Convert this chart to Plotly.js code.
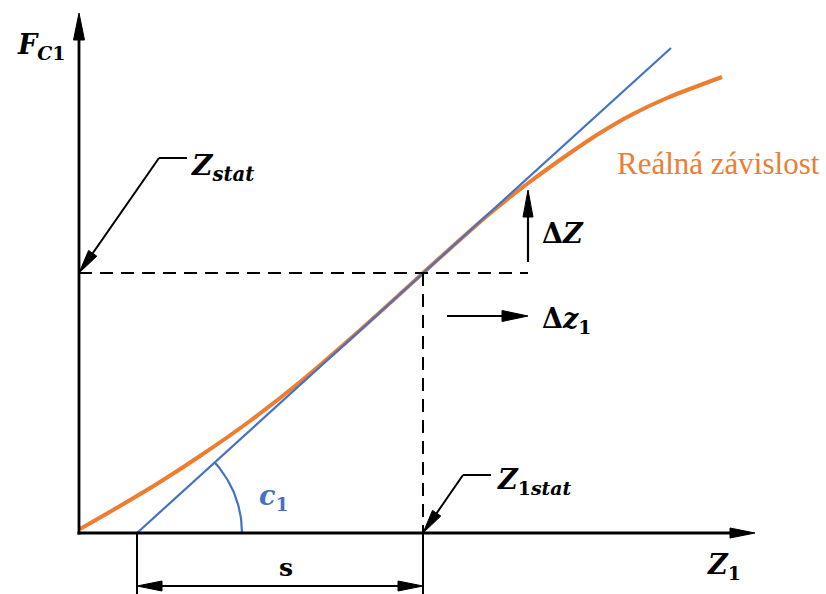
<!DOCTYPE html>
<html>
<head>
<meta charset="utf-8">
<script src="https://cdn.plot.ly/plotly-3.0.1.min.js"></script>
<style>
  html, body { margin: 0; padding: 0; background: #ffffff; }
  #chart { width: 826px; height: 594px; }
</style>
</head>
<body>
<div id="chart"></div>
<script>
// Real (non-linear) spring characteristic F_C1 = f(Z1), sampled along the curve
const realZ1 = [1, 41, 81, 121, 171, 221, 271, 321, 344, 374, 408, 448, 491, 521, 554, 588, 643];
const realFc = [4, 27, 51, 77, 112, 151, 194, 239, 260, 287, 317, 349, 380, 400, 419, 435, 456];

// Linearised characteristic: tangent through the static operating point
const tangentZ1 = [58, 592];
const tangentFc = [0, 485];

// Static operating point
const z1Stat = 344;
const zStat = 260;

// Axis extents of the sketch
const axisZ1End = 676;
const axisFcEnd = 520;

const ORANGE = '#ED7D31';
const BLUE = '#4472C4';
const INK = '#000000';
const SERIF = 'DejaVu Serif, serif';

// ---- helpers -------------------------------------------------------------
function seg(x0, y0, x1, y1, width, dash, color) {
  return {
    type: 'line', xref: 'x', yref: 'y', x0: x0, y0: y0, x1: x1, y1: y1,
    line: { color: color || INK, width: width, dash: dash || 'solid' }
  };
}
// filled triangular head whose tip is (tx,ty), pointing away from (fx,fy)
function head(tx, ty, fx, fy, len, hw) {
  const dx = tx - fx, dy = ty - fy, d = Math.hypot(dx, dy);
  const ux = dx / d, uy = dy / d;
  const bx = tx - ux * len, by = ty - uy * len;
  const px = -uy * hw, py = ux * hw;
  return {
    type: 'path', xref: 'x', yref: 'y',
    path: 'M' + tx + ',' + ty + ' L' + (bx + px) + ',' + (by + py) +
          ' L' + (bx - px) + ',' + (by - py) + ' Z',
    fillcolor: INK, line: { color: INK, width: 1 }
  };
}
// shaft + head; shaft stops inside the head so the tip stays sharp
function arrow(x0, y0, x1, y1, len, hw, width) {
  const dx = x1 - x0, dy = y1 - y0, d = Math.hypot(dx, dy);
  const ex = x1 - dx / d * len * 0.7, ey = y1 - dy / d * len * 0.7;
  return [seg(x0, y0, ex, ey, width), head(x1, y1, x0, y0, len, hw)];
}

// ---- angle arc marking the slope c1 of the tangent --------------------------
const arcR = 105;
const arcEnd = Math.atan2(tangentFc[1] - tangentFc[0], tangentZ1[1] - tangentZ1[0]);
const arcX = [], arcY = [];
for (let i = 0; i <= 40; i++) {
  const a = arcEnd * i / 40;
  arcX.push(tangentZ1[0] + arcR * Math.cos(a));
  arcY.push(tangentFc[0] + arcR * Math.sin(a));
}

const traces = [
  {
    x: realZ1, y: realFc, type: 'scatter', mode: 'lines',
    line: { color: ORANGE, width: 4, shape: 'spline', smoothing: 0.8 },
    hoverinfo: 'skip'
  },
  {
    x: tangentZ1, y: tangentFc, type: 'scatter', mode: 'lines',
    line: { color: BLUE, width: 2.2 }, hoverinfo: 'skip'
  },
  {
    x: arcX, y: arcY, type: 'scatter', mode: 'lines',
    line: { color: BLUE, width: 2.2 }, hoverinfo: 'skip'
  }
];

// ---- construction lines, axes, leaders, dimensions ------------------------
const dimY = -53;
const bottom = -61;
const shapes = [].concat(
  // axes
  arrow(-1.5, 0, axisZ1End, 0, 25, 5, 3),
  arrow(0, -1.5, 0, axisFcEnd, 27, 5.5, 2.8),
  // static point projections
  [seg(0, zStat, 449, zStat, 2, '13px,8px')],
  [seg(z1Stat, zStat, z1Stat, 0, 2, '13px,8px')],
  // dimension s
  [seg(tangentZ1[0], 0, tangentZ1[0], bottom, 2)],
  [seg(z1Stat, 0, z1Stat, bottom, 2)],
  arrow(200, dimY, tangentZ1[0], dimY, 25, 5, 2),
  arrow(200, dimY, z1Stat, dimY, 25, 5, 2),
  // increments
  arrow(449, 271, 449, 343, 27, 5, 2.2),
  arrow(368, 217, 449, 217, 26, 5.5, 2.2),
  // leader to Z_stat
  [seg(80, 375, 108, 375, 2)],
  arrow(80, 375, 0, zStat, 24, 5, 2),
  // leader to Z_1stat
  [seg(384, 58, 412, 58, 2)],
  arrow(384, 58, z1Stat, 0, 24, 5, 2)
);

function label(x, y, text, size, color, xanchor) {
  return {
    x: x, y: y, xref: 'x', yref: 'y', text: text, showarrow: false,
    xanchor: xanchor || 'left', yanchor: 'middle',
    font: { family: SERIF, size: size, color: color || INK }
  };
}

const annotations = [
  label(-64, 487, '<b><i>F</i></b><sub><b><i>C</i>1</b></sub>', 27),
  label(110, 366, '<b><i>Z</i></b><sub><b><i>stat</i></b></sub>', 28),
  label(461, 300, '<b>Δ<i>Z</i></b>', 27),
  label(461, 213, '<b>Δ<i>z</i></b><sub><b>1</b></sub>', 27),
  label(416, 52, '<b><i>Z</i></b><sub><b>1<i>stat</i></b></sub>', 27),
  label(626, -33, '<b><i>Z</i></b><sub><b>1</b></sub>', 27),
  label(207, -34, '<b>s</b>', 25, INK, 'center'),
  label(178, 36, '<b><i>c</i></b><sub><b>1</b></sub>', 27, BLUE),
  {
    x: 536, y: 370, xref: 'x', yref: 'y', text: 'Reálná závislost',
    showarrow: false, xanchor: 'left', yanchor: 'middle',
    font: { family: 'Liberation Serif, serif', size: 31, color: ORANGE }
  }
];

const hidden = {
  showgrid: false, zeroline: false, showticklabels: false,
  showline: false, ticks: '', fixedrange: true
};

const layout = {
  width: 826, height: 594, autosize: false,
  margin: { l: 0, r: 0, t: 0, b: 0, pad: 0 },
  paper_bgcolor: '#ffffff', plot_bgcolor: '#ffffff',
  showlegend: false,
  xaxis: Object.assign({ range: [-79, 747] }, hidden),
  yaxis: Object.assign({ range: [-61, 533] }, hidden),
  shapes: shapes,
  annotations: annotations
};

Plotly.newPlot('chart', traces, layout, { staticPlot: true, displayModeBar: false });
</script>
</body>
</html>
